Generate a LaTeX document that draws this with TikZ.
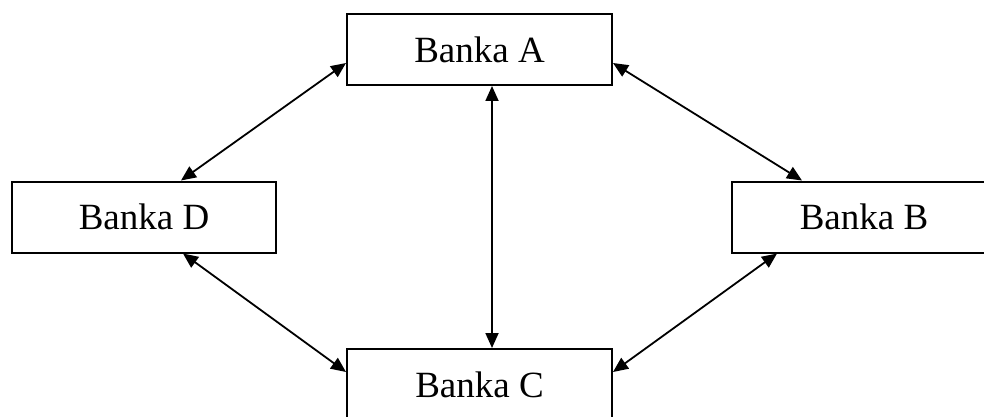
\documentclass[tikz,border=0pt]{standalone}
\usepackage{fontspec}
\setmainfont{Liberation Serif}
\usetikzlibrary{arrows.meta,calc}
\begin{document}
\begin{tikzpicture}[x=1pt,y=1pt,
  bank/.style={draw, line width=2pt, rectangle, minimum height=71pt, inner sep=0pt, font=\fontsize{37}{40}\selectfont},
  link/.style={line width=1.8pt, {Triangle[length=15pt,width=13pt]}-{Triangle[length=15pt,width=13pt]}}]
\useasboundingbox (0,0) rectangle (984,-417);
\clip (0,0) rectangle (984,-417);
\node[bank, minimum width=265pt] (A) at (479.5,-49.5) {Banka A};
\node[bank, minimum width=264pt] (D) at (144,-217) {Banka D};
\node[bank, minimum width=264pt] (B) at (864,-217) {Banka B};
\node[bank, minimum width=265pt] (C) at (479.5,-384.5) {Banka C};
\draw[link] ($(A.west)+(0,-13.5)$) -- ($(D.north)+(37,0)$);
\draw[link] ($(A.east)+(0,-13.5)$) -- ($(B.north)+(-62,0)$);
\draw[link] ($(A.south)+(12.5,0)$) -- ($(C.north)+(12.5,0)$);
\draw[link] ($(D.south)+(39,0)$) -- ($(C.west)+(0,12.5)$);
\draw[link] ($(B.south)+(-87,0)$) -- ($(C.east)+(0,12.5)$);
\end{tikzpicture}
\end{document}
